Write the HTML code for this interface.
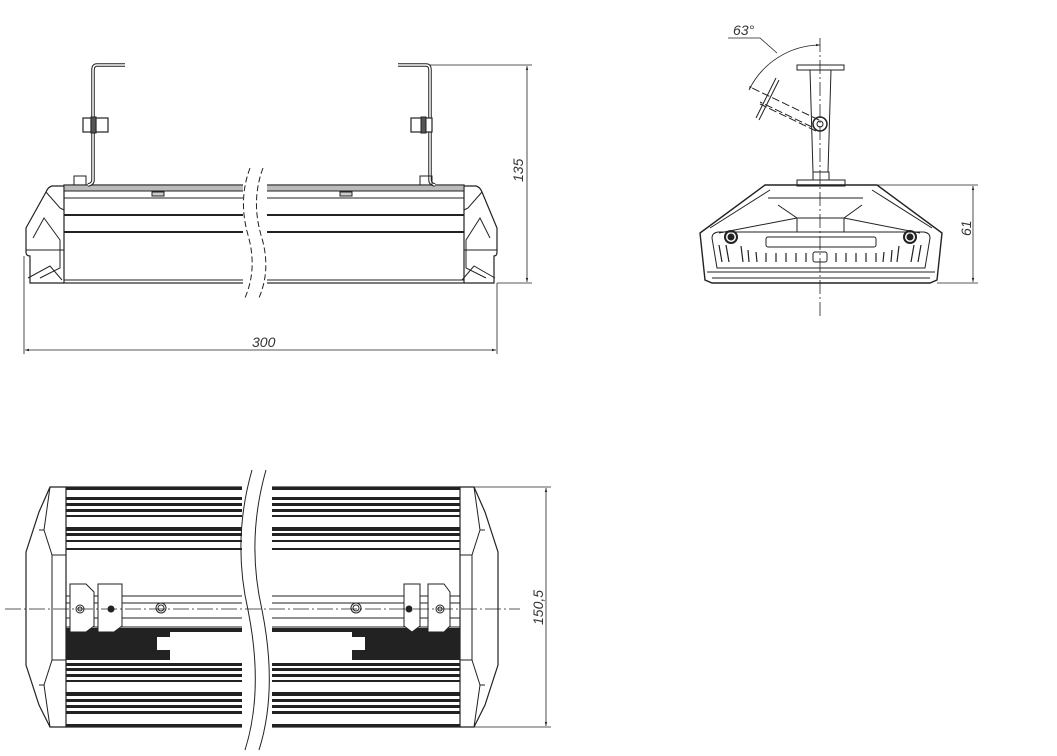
<!DOCTYPE html>
<html><head><meta charset="utf-8"><style>
html,body{margin:0;padding:0;background:#fff;}
svg{display:block;}
text{font-family:"Liberation Sans",sans-serif;font-style:italic;font-weight:normal;font-size:14px;fill:#333;stroke:none;}
</style></head><body>
<svg width="1057" height="756" viewBox="0 0 1057 756" xmlns="http://www.w3.org/2000/svg" fill="none" stroke="#222" stroke-width="1">
<defs>
<marker id="ar" viewBox="0 0 10 10" refX="10" refY="5" markerWidth="10" markerHeight="5" orient="auto-start-reverse"><path d="M0,2 L10,5 L0,8" fill="#222" stroke="none"/></marker>
</defs>

<!-- ===== FRONT VIEW ===== -->
<g>
<rect x="64" y="185" width="400" height="98" stroke-width="1.2"/>
<rect x="64" y="185" width="400" height="6" fill="#bbb" stroke-width="1"/>
<line x1="64" y1="198" x2="464" y2="198"/>
<line x1="64" y1="215" x2="464" y2="215" stroke-width="2"/>
<line x1="64" y1="232" x2="464" y2="232" stroke-width="2"/>
<line x1="64" y1="280" x2="464" y2="280"/>
<rect x="152" y="192" width="12" height="4" fill="#ccc"/>
<rect x="340" y="192" width="12" height="4" fill="#ccc"/>
<path d="M64,186 L52,186 Q48,187 46,192 L26,228 L26,252 Q26,256 30,256 L30,283 L64,283" stroke-width="1.2"/>
<path d="M46,192 L60,208 L64,210 M33,238 L44,218 L60,240 L60,268 L40,278 M26,250 L64,250 M28,278 L50,266 L62,280"/>
<path d="M464,186 L476,186 Q480,187 482,192 L497,228 L497,252 Q497,256 494,256 L494,283 L464,283" stroke-width="1.2"/>
<path d="M482,192 L468,208 L464,210 M490,238 L480,218 L466,240 L466,268 L486,278 M497,250 L464,250 M495,278 L474,266 L462,280"/>
<path d="M125,65 L97,65 Q93,65 93,70 L93,180 Q93,184 88,185" stroke-width="3.5" stroke="#222"/>
<path d="M125,65 L97,65 Q93,65 93,70 L93,180 Q93,184 88,185" stroke-width="1.5" stroke="#fff"/>
<rect x="83" y="118" width="8" height="14" stroke-width="1.2" fill="#fff"/>
<rect x="96" y="118" width="12" height="14" stroke-width="1.2" fill="#fff"/>
<rect x="91" y="117" width="5" height="16" fill="#555"/>
<rect x="74" y="176" width="12" height="9"/>
<path d="M398,65 L426,65 Q430,65 430,70 L430,180 Q430,184 435,185" stroke-width="3.5" stroke="#222"/>
<path d="M398,65 L426,65 Q430,65 430,70 L430,180 Q430,184 435,185" stroke-width="1.5" stroke="#fff"/>
<rect x="424" y="118" width="8" height="14" stroke-width="1.2" fill="#fff"/>
<rect x="411" y="118" width="12" height="14" stroke-width="1.2" fill="#fff"/>
<rect x="421" y="117" width="5" height="16" fill="#555"/>
<rect x="420" y="176" width="12" height="9"/>
<path d="M243,165 L267,165 L267,305 L243,305 Z" fill="#fff" stroke="none"/>
<path d="M250,168 Q238,200 248,235 Q258,270 244,300" stroke-dasharray="6,3"/>
<path d="M263,168 Q251,200 261,235 Q272,270 258,300" stroke-dasharray="6,3"/>
<line x1="430" y1="65" x2="532" y2="65" stroke-width="0.8"/>
<line x1="497" y1="283" x2="532" y2="283" stroke-width="0.8"/>
<line x1="527" y1="66" x2="527" y2="282" stroke-width="0.8" marker-start="url(#ar)" marker-end="url(#ar)"/>
<text transform="translate(523,182) rotate(-90)">135</text>
<line x1="24" y1="256" x2="24" y2="354" stroke-width="0.8"/>
<line x1="497" y1="283" x2="497" y2="354" stroke-width="0.8"/>
<line x1="25" y1="350" x2="496" y2="350" stroke-width="0.8" marker-start="url(#ar)" marker-end="url(#ar)"/>
<text x="252" y="347">300</text>
</g>

<!-- ===== SIDE VIEW ===== -->
<g>
<line x1="820" y1="38" x2="820" y2="316" stroke-width="0.8" stroke-dasharray="14,3,2,3"/>
<rect x="797" y="65" width="47" height="5"/>
<path d="M810,70 L813,172 M831,70 L828,172"/>
<rect x="813" y="172" width="16" height="8"/>
<rect x="797" y="180" width="48" height="6"/>
<circle cx="820" cy="124" r="7" stroke-width="1.5"/>
<circle cx="820" cy="124" r="3"/>
<path d="M819,120 L752,88 M816,131 L760,104 M812,127 L760,102" stroke-dasharray="8,3"/>
<path d="M776,78 L756,118 M779,80 L759,120"/>
<path d="M820,45 A80,80 0 0 0 749,90" stroke-width="0.8" marker-start="url(#ar)" marker-end="url(#ar)"/>
<polyline points="728,38 760,38 777,53" stroke-width="0.8"/>
<text x="733" y="35">63°</text>
<path d="M765,185 L877,185 L942,233 L937,280 L930,283 L712,283 L705,280 L700,233 Z" stroke-width="1.4"/>
<path d="M770,190 L710,228 M872,190 L932,228 M768,198 L863,198 M778,205 L797,218 L844,218 L862,205 M719,233 L797,218 M920,233 L844,218"/>
<rect x="797" y="218" width="47" height="14"/>
<path d="M712,238 Q712,233 718,232 L924,232 Q930,233 930,238 L925,268 L717,268 Z"/>
<path d="M707,272 L935,272 M712,278 L930,278"/>
<rect x="766" y="237" width="110" height="10" rx="2"/>
<rect x="813" y="252" width="14" height="10" rx="2"/>
<circle cx="731" cy="237" r="6" stroke-width="2"/>
<circle cx="731" cy="237" r="3" fill="#222"/>
<circle cx="910" cy="237" r="6" stroke-width="2"/>
<circle cx="910" cy="237" r="3" fill="#222"/>
<g stroke-width="1.2">
<path d="M719,245 L722,262 M726,245 L729,262 M741,246 L743,262 M748,250 L749,262 M756,252 L757,262 M766,253 L766,262 M776,253 L776,262 M786,253 L786,262 M796,253 L796,262 M806,253 L806,262 M836,253 L836,262 M846,253 L846,262 M856,253 L856,262 M866,253 L866,262 M876,253 L876,262 M884,252 L883,262 M892,250 L891,262 M899,246 L897,262 M914,245 L911,262 M921,245 L918,262"/>
</g>
<line x1="878" y1="185" x2="978" y2="185" stroke-width="0.8"/>
<line x1="937" y1="283" x2="978" y2="283" stroke-width="0.8"/>
<line x1="973" y1="186" x2="973" y2="282" stroke-width="0.8" marker-start="url(#ar)" marker-end="url(#ar)"/>
<text transform="translate(971,236) rotate(-90)">61</text>
</g>

<!-- ===== BOTTOM VIEW ===== -->
<g>
<rect x="66" y="487" width="394" height="240" stroke-width="1.2"/>
<g fill="#222" stroke="none">
<rect x="66" y="487" width="394" height="3"/>
<rect x="66" y="497" width="394" height="3"/>
<rect x="66" y="503" width="394" height="3"/>
<rect x="66" y="509" width="394" height="3"/>
<rect x="66" y="515" width="394" height="2"/>
<rect x="66" y="527" width="394" height="4"/>
<rect x="66" y="533" width="394" height="3"/>
<rect x="66" y="540" width="394" height="2"/>
<rect x="66" y="548" width="394" height="2"/>
<rect x="66" y="628" width="394" height="32"/>
<rect x="66" y="663" width="394" height="3"/>
<rect x="66" y="668" width="394" height="3"/>
<rect x="66" y="674" width="394" height="3"/>
<rect x="66" y="680" width="394" height="2"/>
<rect x="66" y="692" width="394" height="4"/>
<rect x="66" y="699" width="394" height="3"/>
<rect x="66" y="705" width="394" height="3"/>
<rect x="66" y="711" width="394" height="3"/>
<rect x="66" y="724" width="394" height="3"/>
</g>
<rect x="157" y="637" width="208" height="13" fill="#fff" stroke="none"/>
<rect x="170" y="632" width="182" height="28" fill="#fff" stroke="none"/>
<path d="M66,596 L460,596 M66,603 L460,603 M66,618 L460,618 M66,627 L460,627"/>
<circle cx="161" cy="608" r="5"/><circle cx="161" cy="608" r="3"/>
<circle cx="356" cy="608" r="5"/><circle cx="356" cy="608" r="3"/>
<g fill="#fff">
<path d="M70,584 L86,584 L94,592 L94,626 L86,632 L70,632 Z"/>
<path d="M98,584 L122,584 L122,626 L114,632 L98,632 L98,592 Z"/>
<path d="M404,584 L420,584 L420,626 L412,632 L404,626 Z"/>
<path d="M428,584 L444,584 L450,592 L450,626 L444,632 L428,632 Z"/>
</g>
<circle cx="80" cy="609" r="4"/><circle cx="80" cy="609" r="2"/>
<circle cx="111" cy="609" r="3" fill="#222"/>
<circle cx="409" cy="609" r="3" fill="#222"/>
<circle cx="440" cy="609" r="4"/><circle cx="440" cy="609" r="2"/>
<path d="M66,487 L50,487 L39,512 L26,552 L26,665 L39,705 L50,727 L66,727" stroke-width="1.2"/>
<path d="M50,487 L44,530 L52,555 L52,660 L44,685 L50,727 M39,530 L44,530 M39,685 L44,685 M52,555 L66,555 M52,660 L66,660"/>
<path d="M460,487 L474,487 L485,512 L498,552 L498,665 L485,705 L474,727 L460,727" stroke-width="1.2"/>
<path d="M474,487 L480,530 L472,555 L472,660 L480,685 L474,727 M485,530 L480,530 M485,685 L480,685 M472,555 L460,555 M472,660 L460,660"/>
<path d="M242,468 L272,468 L272,750 L242,750 Z" fill="#fff" stroke="none"/>
<path d="M252,470 Q232,540 248,610 Q264,690 245,750"/>
<path d="M266,470 Q246,540 262,610 Q278,690 259,750"/>
<line x1="5" y1="609" x2="520" y2="609" stroke-width="0.8" stroke-dasharray="16,3,2,3"/>
<line x1="474" y1="487" x2="551" y2="487" stroke-width="0.8"/>
<line x1="474" y1="727" x2="551" y2="727" stroke-width="0.8"/>
<line x1="546" y1="488" x2="546" y2="726" stroke-width="0.8" marker-start="url(#ar)" marker-end="url(#ar)"/>
<text transform="translate(543,625) rotate(-90)">150,5</text>
</g>
</svg>
</body></html>
